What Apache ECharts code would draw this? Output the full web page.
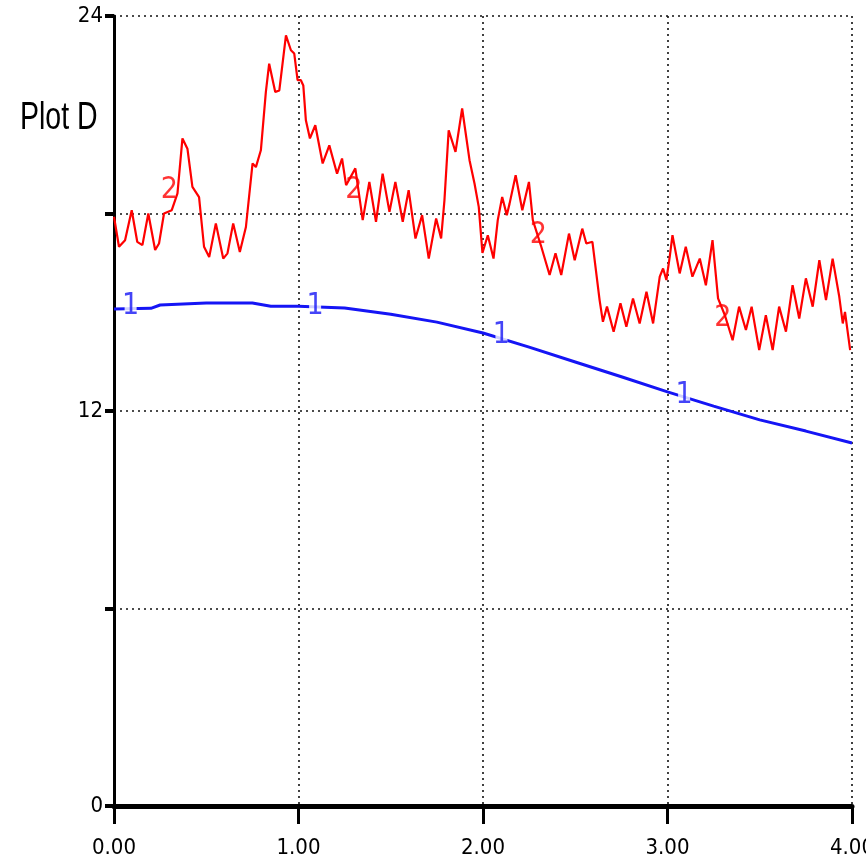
<!DOCTYPE html>
<html>
<head>
<meta charset="utf-8">
<script src="https://cdn.jsdelivr.net/npm/echarts@6/dist/echarts.min.js"></script>
<style>
  html, body { margin: 0; padding: 0; background: #fff; }
  #chart { width: 866px; height: 858px; }
</style>
</head>
<body>
<div id="chart"></div>
<script>
// values
var redX = [0.00, 0.027, 0.060, 0.096, 0.126, 0.154, 0.186, 0.223, 0.244, 0.271, 0.313, 0.344, 0.371, 0.398,
    0.425, 0.461, 0.488, 0.516, 0.552, 0.592, 0.615, 0.646, 0.682, 0.715, 0.751, 0.769, 0.796, 0.823, 0.841,
    0.874, 0.896, 0.932, 0.959, 0.977, 0.995, 1.013, 1.026, 1.040, 1.062, 1.091, 1.131, 1.167, 1.209, 1.236,
    1.258, 1.308, 1.348, 1.384, 1.420, 1.456, 1.493, 1.525, 1.565, 1.597, 1.634, 1.670, 1.706, 1.746, 1.773,
    1.791, 1.814, 1.851, 1.887, 1.927, 1.954, 1.977, 1.997, 2.026, 2.057, 2.080, 2.104, 2.129, 2.144, 2.177,
    2.213, 2.249, 2.270, 2.316, 2.361, 2.393, 2.424, 2.466, 2.497, 2.538, 2.560, 2.593, 2.632, 2.650, 2.672,
    2.708, 2.745, 2.777, 2.813, 2.849, 2.886, 2.922, 2.958, 2.976, 2.994, 3.012, 3.027, 3.066, 3.099, 3.135,
    3.175, 3.208, 3.244, 3.274, 3.311, 3.353, 3.388, 3.425, 3.456, 3.497, 3.533, 3.570, 3.605, 3.642, 3.678,
    3.714, 3.750, 3.787, 3.823, 3.859, 3.895, 3.931, 3.950, 3.962, 3.990];
var redY = [17.90, 16.99, 17.19, 18.10, 17.14, 17.04, 18.00, 16.89, 17.09, 18.00, 18.10, 18.61, 20.28, 19.97,
    18.81, 18.50, 16.99, 16.68, 17.70, 16.63, 16.79, 17.70, 16.83, 17.59, 19.52, 19.41, 19.92, 21.69, 22.55,
    21.69, 21.74, 23.41, 22.96, 22.86, 22.05, 22.05, 21.89, 20.83, 20.28, 20.68, 19.52, 20.07, 19.21, 19.67,
    18.86, 19.37, 17.80, 18.96, 17.75, 19.21, 18.05, 18.96, 17.75, 18.71, 17.24, 17.95, 16.63, 17.85, 17.24,
    18.40, 20.53, 19.87, 21.19, 19.62, 18.91, 18.20, 16.80, 17.34, 16.63, 17.80, 18.50, 17.95, 18.30, 19.16,
    18.10, 18.96, 17.80, 16.99, 16.13, 16.79, 16.13, 17.39, 16.58, 17.54, 17.09, 17.14, 15.37, 14.71, 15.17,
    14.41, 15.27, 14.56, 15.42, 14.66, 15.62, 14.66, 16.08, 16.33, 15.98, 16.68, 17.34, 16.18, 16.99, 16.08,
    16.63, 15.82, 17.19, 15.42, 14.91, 14.15, 15.17, 14.46, 15.17, 13.85, 14.91, 13.85, 15.17, 14.41, 15.82,
    14.81, 16.03, 15.17, 16.58, 15.37, 16.63, 15.47, 14.66, 15.01, 13.85];

var blueX = [0.00, 0.20, 0.25, 0.50, 0.75, 0.85, 1.00, 1.25, 1.50, 1.75, 2.00, 2.25, 2.50, 2.75, 3.00, 3.25, 3.50, 3.75, 4.00];
var blueY = [15.10, 15.12, 15.22, 15.28, 15.28, 15.18, 15.18, 15.13, 14.94, 14.70, 14.37, 13.94, 13.49, 13.04, 12.58, 12.15, 11.73, 11.39, 11.03];

// curve number markers
var blueMarkX = [0.09, 1.09, 2.10, 3.09];
var blueMarkY = [15.17, 15.17, 14.31, 12.49];
var redMarkX = [0.30, 1.30, 2.30, 3.30];
var redMarkY = [18.70, 18.71, 17.33, 14.81];

var yLabels = ['0', '', '12', '', '24'];

function zip(xs, ys) {
    var out = [];
    for (var i = 0; i < xs.length; i++) out.push([xs[i], ys[i]]);
    return out;
}

var font = "'Liberation Sans Narrow', 'DejaVu Sans Condensed', 'Arial Narrow', sans-serif";
var myChart = echarts.init(document.getElementById('chart'));
var option = {
    animation: false,
    backgroundColor: '#fff',
    graphic: [{
        type: 'text',
        left: 20,
        top: 100,
        scaleX: 0.75,
        style: {
            text: 'Plot D',
            font: "38px 'Liberation Sans', sans-serif",
            fill: '#000'
        }
    }],
    grid: { left: 114, right: 14, top: 16, bottom: 52, outerBoundsMode: 'none' },
    xAxis: {
        type: 'value',
        min: 0,
        max: 4,
        interval: 1,
        axisLine: { lineStyle: { color: '#000', width: 5 } },
        axisTick: { length: 18, lineStyle: { color: '#000', width: 3 } },
        axisLabel: {
            margin: 31,
            color: '#000',
            fontFamily: font,
            fontSize: 22,
            formatter: function(v) { return v.toFixed(2); }
        },
        splitLine: { show: true, lineStyle: { color: '#111', width: 1.6, type: [2, 4] } }
    },
    yAxis: {
        type: 'value',
        min: 0,
        max: 24,
        interval: 6,
        axisLine: { show: true, lineStyle: { color: '#000', width: 3 } },
        axisTick: { show: true, length: 9, lineStyle: { color: '#000', width: 4 } },
        axisLabel: {
            margin: 11,
            color: '#000',
            fontFamily: font,
            fontSize: 22,
            formatter: function(v, i) { return yLabels[i]; }
        },
        splitLine: { show: true, lineStyle: { color: '#111', width: 1.6, type: [2, 4] } }
    },
    series: [{
        name: '2',
        type: 'line',
        data: zip(redX, redY),
        symbol: 'none',
        lineStyle: { color: '#ff0000', width: 2.2 },
        z: 3
    }, {
        name: '1',
        type: 'line',
        data: zip(blueX, blueY),
        symbol: 'none',
        lineStyle: { color: '#1515f5', width: 3 },
        z: 3
    }, {
        type: 'scatter',
        data: zip(blueMarkX, blueMarkY),
        symbol: 'rect',
        symbolSize: [12, 26],
        itemStyle: { color: '#fff' },
        label: {
            show: true,
            position: 'inside',
            formatter: '1',
            color: '#1515f5',
            fontFamily: font,
            fontSize: 30
        },
        z: 5
    }, {
        type: 'scatter',
        data: zip(redMarkX, redMarkY),
        symbol: 'rect',
        symbolSize: [10, 20],
        itemStyle: { color: 'rgba(0,0,0,0)' },
        label: {
            show: true,
            position: 'inside',
            formatter: '2',
            color: '#ff0000',
            fontFamily: font,
            fontSize: 30
        },
        z: 5
    }]
};
myChart.setOption(option);
</script>
</body>
</html>
